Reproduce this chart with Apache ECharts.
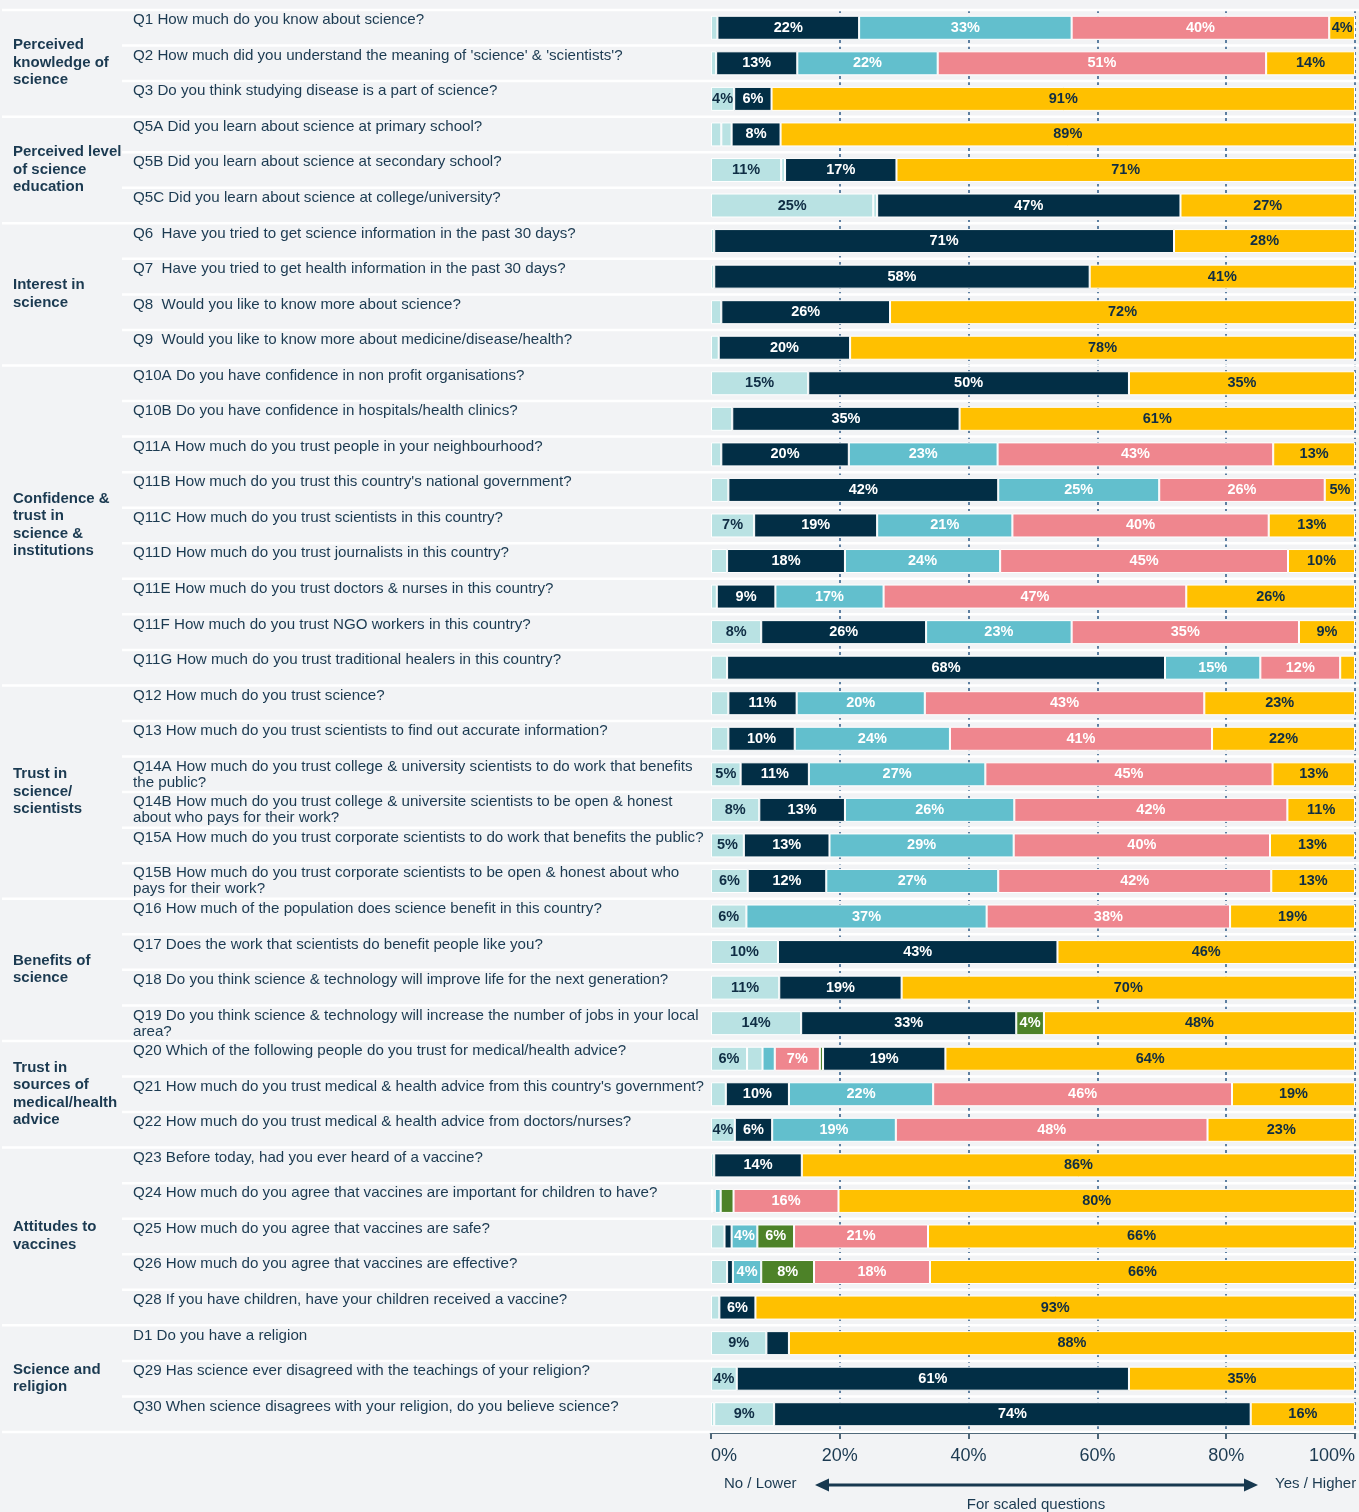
<!DOCTYPE html>
<html>
<head>
<meta charset="utf-8">
<script src="https://cdn.jsdelivr.net/npm/echarts@6/dist/echarts.min.js"></script>
<style>
html,body{margin:0;padding:0;background:#f2f3f5;}
#chart{width:1359px;height:1512px;}
</style>
</head>
<body>
<div id="chart"></div>
<script>
// ---------------- DATA ----------------
const questions = [
  "Q1 How much do you know about science?",
  "Q2 How much did you understand the meaning of 'science' & 'scientists'?",
  "Q3 Do you think studying disease is a part of science?",
  "Q5A Did you learn about science at primary school?",
  "Q5B Did you learn about science at secondary school?",
  "Q5C Did you learn about science at college/university?",
  "Q6  Have you tried to get science information in the past 30 days?",
  "Q7  Have you tried to get health information in the past 30 days?",
  "Q8  Would you like to know more about science?",
  "Q9  Would you like to know more about medicine/disease/health?",
  "Q10A Do you have confidence in non profit organisations?",
  "Q10B Do you have confidence in hospitals/health clinics?",
  "Q11A How much do you trust people in your neighbourhood?",
  "Q11B How much do you trust this country's national government?",
  "Q11C How much do you trust scientists in this country?",
  "Q11D How much do you trust journalists in this country?",
  "Q11E How much do you trust doctors & nurses in this country?",
  "Q11F How much do you trust NGO workers in this country?",
  "Q11G How much do you trust traditional healers in this country?",
  "Q12 How much do you trust science?",
  "Q13 How much do you trust scientists to find out accurate information?",
  "Q14A How much do you trust college & university scientists to do work that benefits\nthe public?",
  "Q14B How much do you trust college & universite scientists to be open & honest\nabout who pays for their work?",
  "Q15A How much do you trust corporate scientists to do work that benefits the public?",
  "Q15B How much do you trust corporate scientists to be open & honest about who\npays for their work?",
  "Q16 How much of the population does science benefit in this country?",
  "Q17 Does the work that scientists do benefit people like you?",
  "Q18 Do you think science & technology will improve life for the next generation?",
  "Q19 Do you think science & technology will increase the number of jobs in your local\narea?",
  "Q20 Which of the following people do you trust for medical/health advice?",
  "Q21 How much do you trust medical & health advice from this country's government?",
  "Q22 How much do you trust medical & health advice from doctors/nurses?",
  "Q23 Before today, had you ever heard of a vaccine?",
  "Q24 How much do you agree that vaccines are important for children to have?",
  "Q25 How much do you agree that vaccines are safe?",
  "Q26 How much do you agree that vaccines are effective?",
  "Q28 If you have children, have your children received a vaccine?",
  "D1 Do you have a religion",
  "Q29 Has science ever disagreed with the teachings of your religion?",
  "Q30 When science disagrees with your religion, do you believe science?"
];

const groupLabels = [
  "Perceived\nknowledge of\nscience",
  "Perceived level\nof science\neducation",
  "Interest in\nscience",
  "Confidence &\ntrust in\nscience &\ninstitutions",
  "Trust in\nscience/\nscientists",
  "Benefits of\nscience",
  "Trust in\nsources of\nmedical/health\nadvice",
  "Attitudes to\nvaccines",
  "Science and\nreligion"
];
const groupFirstRow = [0, 3, 6, 10, 19, 25, 29, 32, 37];
const groupLastRow  = [2, 5, 9, 18, 24, 28, 31, 36, 39];

// L = no answer / other, N = no / lowest, T = low, G = neutral, P = high, Y = yes / highest
const segmentKinds = [
  ["L","N","T","P","Y"],
  ["L","N","T","P","Y"],
  ["L","N","Y"],
  ["L","L","N","Y"],
  ["L","L","N","Y"],
  ["L","L","N","Y"],
  ["L","N","Y"],
  ["L","N","Y"],
  ["L","N","Y"],
  ["L","N","Y"],
  ["L","N","Y"],
  ["L","N","Y"],
  ["L","N","T","P","Y"],
  ["L","N","T","P","Y"],
  ["L","N","T","P","Y"],
  ["L","N","T","P","Y"],
  ["L","N","T","P","Y"],
  ["L","N","T","P","Y"],
  ["L","N","T","P","Y"],
  ["L","N","T","P","Y"],
  ["L","N","T","P","Y"],
  ["L","N","T","P","Y"],
  ["L","N","T","P","Y"],
  ["L","N","T","P","Y"],
  ["L","N","T","P","Y"],
  ["L","T","P","Y"],
  ["L","N","Y"],
  ["L","N","Y"],
  ["L","N","G","Y"],
  ["L","L","T","P","G","N","Y"],
  ["L","N","T","P","Y"],
  ["L","N","T","P","Y"],
  ["L","N","Y"],
  ["L","N","T","G","P","Y"],
  ["L","N","T","G","P","Y"],
  ["L","N","T","G","P","Y"],
  ["L","N","Y"],
  ["L","N","Y"],
  ["L","N","Y"],
  ["L","L","N","Y"]
];
const segmentValues = [
  [1.0, 22.0, 33.0, 40.0, 4.0],
  [0.8, 12.6, 21.8, 51.0, 13.8],
  [3.6, 5.8, 90.6],
  [1.6, 1.6, 7.6, 89.2],
  [10.9, 0.6, 17.3, 71.2],
  [25.2, 0.6, 47.1, 27.1],
  [0.5, 71.4, 28.1],
  [0.5, 58.3, 41.2],
  [1.6, 26.2, 72.2],
  [1.2, 20.4, 78.4],
  [15.1, 49.8, 35.1],
  [3.3, 35.3, 61.4],
  [1.6, 19.8, 23.1, 42.8, 12.7],
  [2.7, 41.9, 25.0, 25.7, 4.7],
  [6.7, 19.1, 21.0, 39.8, 13.4],
  [2.5, 18.3, 24.1, 44.7, 10.4],
  [0.9, 9.1, 16.8, 47.0, 26.2],
  [7.8, 25.6, 22.6, 35.3, 8.7],
  [2.5, 68.0, 14.8, 12.4, 2.3],
  [2.7, 10.6, 19.9, 43.4, 23.4],
  [2.7, 10.3, 24.1, 40.7, 22.2],
  [4.6, 10.6, 27.4, 44.6, 12.8],
  [7.5, 13.3, 26.3, 42.4, 10.5],
  [5.1, 13.3, 28.6, 39.8, 13.2],
  [5.7, 12.2, 26.7, 42.4, 13.0],
  [5.5, 37.3, 37.8, 19.4],
  [10.4, 43.4, 46.2],
  [10.6, 19.0, 70.4],
  [14.0, 33.4, 4.3, 48.3],
  [5.6, 2.4, 1.9, 7.0, 0.5, 19.0, 63.6],
  [2.3, 9.8, 22.4, 46.4, 19.1],
  [3.7, 5.8, 19.2, 48.4, 22.9],
  [0.5, 13.6, 85.9],
  [0.3, 0.3, 0.9, 2.0, 16.3, 80.2],
  [2.1, 1.1, 4.0, 5.7, 20.8, 66.3],
  [2.5, 0.9, 4.4, 8.2, 18.0, 66.0],
  [1.3, 5.6, 93.1],
  [8.6, 3.5, 87.9],
  [4.0, 60.9, 35.1],
  [0.5, 9.3, 74.0, 16.2]
];

const xTickValues = [0, 20, 40, 60, 80, 100];
const scaleLowText = "No / Lower";
const scaleHighText = "Yes / Higher";
const scaleNote = "For scaled questions";

// ---------------- STYLE ----------------
const FONT = "'Liberation Sans', Arial, Helvetica, sans-serif";
const TEXT = "#1b3a51";
const kindColor = { L: "#b9e2e3", N: "#022e45", T: "#62bfcd", G: "#4d8228", P: "#ef868e", Y: "#ffc000" };
const kindLabel = { L: "#0f2d44", N: "#ffffff", T: "#ffffff", G: "#ffffff", P: "#ffffff", Y: "#0f2d44" };

const chart = echarts.init(document.getElementById("chart"), null, { renderer: "canvas" });

const maxSeg = Math.max(...segmentKinds.map(r => r.length));
const series = [];
for (let k = 0; k < maxSeg; k++) {
  series.push({
    type: "bar",
    stack: "all",
    barWidth: 24,
    silent: true,
    z: 3,
    itemStyle: { borderColor: "#ffffff", borderWidth: 1 },
    label: {
      show: true,
      position: "inside",
      fontFamily: FONT,
      fontWeight: "bold",
      fontSize: 14.5,
      formatter: p => (p.data && p.data.raw >= 3.55) ? Math.round(p.data.raw) + "%" : ""
    },
    data: questions.map((q, i) => {
      const v = segmentValues[i][k];
      if (v === undefined) return "-";
      const kind = segmentKinds[i][k];
      return { value: v, raw: v, itemStyle: { color: kindColor[kind] }, label: { color: kindLabel[kind] } };
    })
  });
}

const option = {
  backgroundColor: "#f2f3f5",
  animation: false,
  grid: { left: 711, right: 4, top: 10, bottom: 80, containLabel: false },
  xAxis: {
    type: "value",
    min: xTickValues[0],
    max: xTickValues[xTickValues.length - 1],
    interval: 20,
    axisLine: { show: true, lineStyle: { color: "#17384f", width: 3 } },
    axisTick: { show: true, length: 7, lineStyle: { color: "#17384f", width: 1.5 } },
    axisLabel: {
      formatter: "{value}%",
      fontFamily: FONT,
      fontSize: 18,
      color: TEXT,
      margin: 15,
      alignMinLabel: "left",
      alignMaxLabel: "right"
    },
    splitLine: {
      show: true,
      showMinLine: false,
      showMaxLine: true,
      lineStyle: { color: "#2c5a85", type: [3, 3], width: 1.5 }
    }
  },
  yAxis: {
    type: "category",
    inverse: true,
    data: questions.map(q => q.split(" ")[0]),
    axisLine: { show: false },
    axisTick: { show: false },
    axisLabel: { show: false },
    splitLine: { show: false }
  },
  series: series
};
chart.setOption(option);

// ---------------- TEXT & SEPARATORS via axis scale ----------------
const yc = i => chart.convertToPixel({ yAxisIndex: 0 }, i);
const step = yc(1) - yc(0);
const n = questions.length;
const groupBoundaries = new Set([0, ...groupLastRow.map(r => r + 1)]);
const els = [];

for (let b = 0; b <= n; b++) {
  let y;
  if (b === 0) y = yc(0) - step / 2;
  else if (b === n) y = yc(n - 1) + step / 2;
  else y = (yc(b - 1) + yc(b)) / 2;
  const x1 = groupBoundaries.has(b) ? 2 : 122;
  els.push({ type: "line", z: 1, silent: true,
    shape: { x1: x1, y1: y, x2: 1359, y2: y },
    style: { stroke: "#ffffff", lineWidth: 2.5 } });
}

questions.forEach((q, i) => {
  els.push({ type: "text", z: 5, silent: true, x: 133, y: yc(i) - 7.7 - 8,
    style: { text: q, font: "15.15px " + FONT, fill: TEXT, verticalAlign: "top", align: "left", lineHeight: 16 } });
});

groupLabels.forEach((g, gi) => {
  const y = (yc(groupFirstRow[gi]) + yc(groupLastRow[gi])) / 2 - 0.5;
  els.push({ type: "text", z: 5, silent: true, x: 13, y: y,
    style: { text: g, font: "bold 15px " + FONT, fill: TEXT, verticalAlign: "middle", align: "left", lineHeight: 17.5 } });
});

// scale arrow
const ay = 1485;
els.push({ type: "line", z: 5, silent: true, shape: { x1: 826, y1: ay, x2: 1247, y2: ay }, style: { stroke: "#17384f", lineWidth: 3 } });
els.push({ type: "polygon", z: 5, silent: true, shape: { points: [[815, ay], [829, ay - 6.5], [829, ay + 6.5]] }, style: { fill: "#17384f" } });
els.push({ type: "polygon", z: 5, silent: true, shape: { points: [[1258, ay], [1244, ay - 6.5], [1244, ay + 6.5]] }, style: { fill: "#17384f" } });
els.push({ type: "text", z: 5, silent: true, x: 724, y: 1484,
  style: { text: scaleLowText, font: "15px " + FONT, fill: TEXT, verticalAlign: "middle", align: "left" } });
els.push({ type: "text", z: 5, silent: true, x: 1275, y: 1484,
  style: { text: scaleHighText, font: "15px " + FONT, fill: TEXT, verticalAlign: "middle", align: "left" } });
els.push({ type: "text", z: 5, silent: true, x: 1036, y: 1505,
  style: { text: scaleNote, font: "15px " + FONT, fill: TEXT, verticalAlign: "middle", align: "center" } });

chart.setOption({ graphic: { elements: els } });
</script>
</body>
</html>
